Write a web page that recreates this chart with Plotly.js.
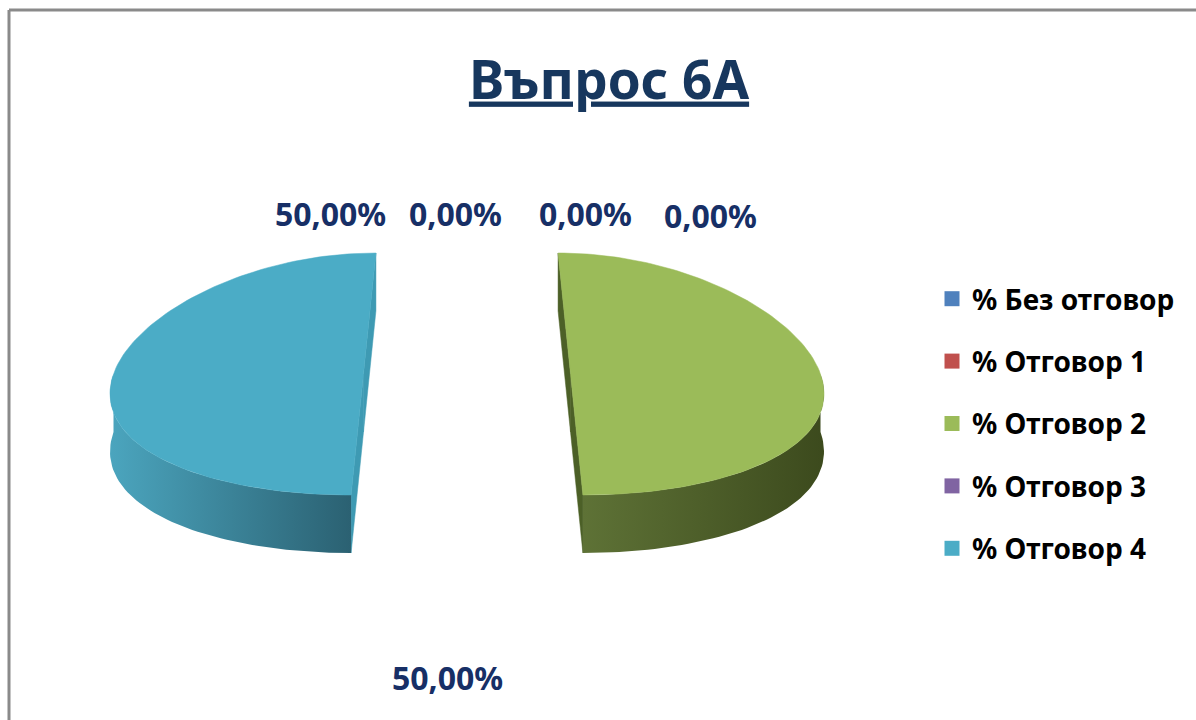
<!DOCTYPE html>
<html>
<head>
<meta charset="utf-8">
<script src="https://cdn.plot.ly/plotly-3.0.1.min.js"></script>
<style>html,body{margin:0;padding:0;background:#fff;}#chart{width:1196px;height:720px;}</style>
</head>
<body>
<div id="chart"></div>
<script>
// ---- data ----
const categories = ['% Без отговор', '% Отговор 1', '% Отговор 2', '% Отговор 3', '% Отговор 4'];
const values = [0, 0, 50, 0, 50];
const labelTexts = values.map(v => v.toFixed(2).replace('.', ',') + '%');

// ---- style ----
const topColors  = ['#4F81BD', '#C0504D', '#9BBB59', '#8064A2', '#4BACC6'];
const cutColors  = ['#3d6797', '#99403d', '#4c6027', '#664f82', '#3e9ab3'];
const sideScales = [
  [[0, '#4676ad'], [1, '#2c4a70']],
  [[0, '#b04a47'], [1, '#6e2d2b']],
  [[0, '#5e7236'], [1, '#3c4a1d']],
  [[0, '#7560a0'], [1, '#463a5e']],
  [[0, '#4ba5be'], [1, '#2b6172']]
];
const labelPos = [[455, 213], [585, 213], [447, 677], [710, 215], [330, 213]];

// ---- 3D pie geometry (screen units) ----
const G = {cx: 467, cy: 374, R: 250, Ry: 121, H: 58, p: 0.12, explode: 0.414};
function proj(u, v, z) {
  const s = 1 - G.p * v;
  return [G.cx + G.R * u * s, G.cy - G.Ry * v + z];
}

const total = values.reduce((a, b) => a + b, 0);
const traces = [];
let cum = 0;
const slices = [];
values.forEach((val, i) => {
  const f = val / total;
  const a0 = 90 - cum * 360;
  const a1 = 90 - (cum + f) * 360;
  cum += f;
  if (f <= 0) return;
  const mid = (a0 + a1) / 2 * Math.PI / 180;
  const ox = G.explode * Math.cos(mid), oy = G.explode * Math.sin(mid);
  slices.push({i, a0, a1, ox, oy});
});

slices.forEach(s => {
  const n = 120;
  const arc = [];
  for (let k = 0; k <= n; k++) {
    const a = (s.a0 + (s.a1 - s.a0) * k / n) * Math.PI / 180;
    arc.push([Math.cos(a) + s.ox, Math.sin(a) + s.oy, Math.sin(a)]);
  }
  const c = [s.ox, s.oy];
  // radial (cut) faces
  [arc[0], arc[arc.length - 1]].forEach(r => {
    const pts = [proj(c[0], c[1], 0), proj(r[0], r[1], 0), proj(r[0], r[1], G.H), proj(c[0], c[1], G.H), proj(c[0], c[1], 0)];
    traces.push({type: 'scatter', mode: 'lines', x: pts.map(p => p[0]), y: pts.map(p => p[1]),
      fill: 'toself', fillcolor: cutColors[s.i], line: {width: 0.5, color: cutColors[s.i]},
      hoverinfo: 'skip', showlegend: false});
  });
  // outer side (front part)
  const front = arc.filter(p => p[2] <= 0.0001);
  if (front.length > 1) {
    const up = front.map(p => proj(p[0], p[1], 0));
    const dn = front.slice().reverse().map(p => proj(p[0], p[1], G.H));
    const pts = up.concat(dn, [up[0]]);
    traces.push({type: 'scatter', mode: 'lines', x: pts.map(p => p[0]), y: pts.map(p => p[1]),
      fill: 'toself', fillgradient: {type: 'horizontal', colorscale: sideScales[s.i]},
      line: {width: 0}, hoverinfo: 'skip', showlegend: false});
  }
  // top face
  const topPts = [proj(c[0], c[1], 0)].concat(arc.map(p => proj(p[0], p[1], 0)), [proj(c[0], c[1], 0)]);
  traces.push({type: 'scatter', mode: 'lines', x: topPts.map(p => p[0]), y: topPts.map(p => p[1]),
    fill: 'toself', fillcolor: topColors[s.i], line: {width: 0.5, color: topColors[s.i]},
    name: categories[s.i], hoverinfo: 'name', showlegend: false});
});

// legend entries
categories.forEach((cat, i) => {
  traces.push({type: 'scatter', mode: 'markers', x: [null], y: [null], name: cat,
    legendgroup: 'g' + i, marker: {symbol: 'square', size: 15, color: topColors[i]}, showlegend: true});
});

const FONT = 'Noto Sans, Open Sans, DejaVu Sans, sans-serif';
const annotations = categories.map((cat, i) => ({
  x: labelPos[i][0], y: labelPos[i][1], xref: 'x', yref: 'y', text: '<b>' + labelTexts[i] + '</b>',
  showarrow: false, xanchor: 'center', yanchor: 'middle',
  font: {family: FONT, size: 32, color: '#172F66'}
}));

const W = 1196, Hh = 720;
const layout = {
  width: W, height: Hh,
  margin: {l: 0, r: 0, t: 0, b: 0},
  paper_bgcolor: '#ffffff', plot_bgcolor: 'rgba(0,0,0,0)',
  title: {text: '<b><u>Въпрос 6А</u></b>', x: 609 / W, xanchor: 'center', y: 1 - 80 / Hh, yanchor: 'middle', yref: 'container',
    font: {family: FONT, size: 53, color: '#17375E'}},
  xaxis: {range: [0, W], visible: false, fixedrange: true},
  yaxis: {range: [Hh, 0], visible: false, fixedrange: true},
  showlegend: true,
  legend: {x: 932 / W, y: 1 - 274 / Hh, xanchor: 'left', yanchor: 'top', traceorder: 'grouped', tracegroupgap: 23,
    font: {family: FONT, size: 28, color: '#000000', weight: 'bold'}, bgcolor: 'rgba(0,0,0,0)', itemclick: false, itemdoubleclick: false},
  annotations: annotations,
  shapes: [
    {type: 'line', xref: 'paper', yref: 'paper', x0: 9 / W, x1: 1, y0: 1 - 10 / Hh, y1: 1 - 10 / Hh, line: {color: '#8a8a8a', width: 3}},
    {type: 'line', xref: 'paper', yref: 'paper', x0: 9 / W, x1: 9 / W, y0: 0, y1: 1 - 10 / Hh, line: {color: '#8a8a8a', width: 3}}
  ]
};

Plotly.newPlot('chart', traces, layout, {displayModeBar: false, staticPlot: false});
</script>
</body>
</html>
